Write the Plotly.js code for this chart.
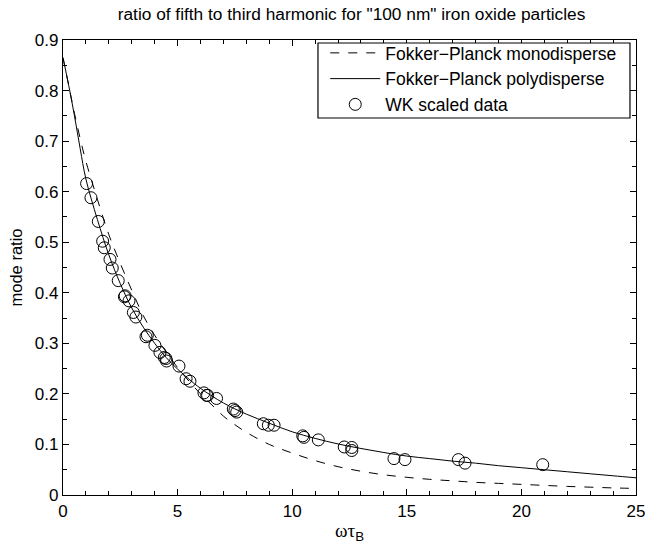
<!DOCTYPE html>
<html>
<head>
<meta charset="utf-8">
<script src="https://cdn.plot.ly/plotly-3.0.1.min.js"></script>
<style>html,body{margin:0;padding:0;background:#fff;}#chart{width:645px;height:550px;}</style>
</head>
<body>
<div id="chart"></div>
<script>
// Fokker-Planck curves
const curveX = [0,0.25,0.5,0.75,1,1.5,2,2.5,3,3.5,4,4.5,5,5.5,6,6.5,7,7.5,8,9,10,11,12,13,14,15,16,17,18,19,20,21,22,23,24,25];
const monoY  = [0.865,0.81,0.755,0.705,0.66,0.585,0.515,0.458,0.405,0.355,0.316,0.283,0.252,0.225,0.200,0.178,0.156,0.139,0.124,0.100,0.083,0.068,0.056,0.047,0.040,0.035,0.031,0.028,0.025,0.023,0.021,0.019,0.017,0.0155,0.014,0.013];
const polyX  = [0,0.25,0.5,0.75,1,1.5,2,2.5,3,3.5,4,4.5,5,5.5,6,7,8,9,10,11,12,13,14,15,16,17,18,19,20,21,22,23,24,25];
const polyY  = [0.865,0.81,0.75,0.685,0.625,0.545,0.475,0.418,0.370,0.332,0.300,0.272,0.249,0.229,0.211,0.182,0.160,0.142,0.125,0.112,0.101,0.092,0.084,0.077,0.072,0.067,0.063,0.058,0.054,0.050,0.046,0.042,0.038,0.034];
// WK scaled data
const dataX = [1.03,1.22,1.54,1.73,1.80,2.05,2.15,2.41,2.68,2.71,2.88,3.07,3.18,3.62,3.68,4.01,4.23,4.42,4.49,4.52,5.06,5.37,5.54,6.15,6.27,6.31,6.70,7.43,7.50,7.58,8.74,8.96,9.21,10.46,10.51,11.14,12.27,12.60,12.60,14.44,14.92,17.25,17.54,20.93];
const dataY = [0.616,0.588,0.541,0.502,0.489,0.466,0.449,0.424,0.392,0.394,0.384,0.361,0.352,0.313,0.316,0.296,0.282,0.272,0.270,0.265,0.255,0.230,0.225,0.202,0.197,0.197,0.191,0.170,0.167,0.164,0.141,0.138,0.138,0.117,0.114,0.109,0.095,0.094,0.088,0.072,0.070,0.070,0.063,0.060];

const names = ['Fokker\u2212Planck monodisperse','Fokker\u2212Planck polydisperse','WK scaled data'];

const traces = [
  {x: curveX, y: monoY, mode:'lines', name:names[0], line:{color:'#000', width:1, dash:'dash', shape:'spline'}},
  {x: polyX, y: polyY, mode:'lines', name:names[1], line:{color:'#000', width:1, shape:'spline'}},
  {x: dataX, y: dataY, mode:'markers', name:names[2], marker:{symbol:'circle-open', size:12, color:'#000', line:{width:1, color:'#000'}}}
];

const fam = '"Liberation Sans", Arial, Helvetica, sans-serif';
const f = (s) => ({family:fam, color:'#000', size:s});
const layout = {
  width:645, height:550,
  margin:{l:63, r:9, t:40, b:55},
  paper_bgcolor:'#fff', plot_bgcolor:'#fff',
  font: f(16),
  title:{text:'ratio of fifth to third harmonic for "100 nm" iron oxide particles', font:f(17.3), x:0.545, xanchor:'center', y:0.975, yanchor:'middle'},
  xaxis:{range:[0,25], dtick:5, tick0:0, ticks:'inside', ticklen:6, tickcolor:'#000', showline:true, linecolor:'#000', linewidth:1.2, mirror:'allticks', showgrid:false, zeroline:false,
    minor:{dtick:1, ticks:'inside', ticklen:4, tickcolor:'#000', showgrid:false},
    tickfont:f(17), ticklabeloverflow:'allow',
    title:{text:'<span style="font-family:\'Liberation Serif\', serif">\u03c9\u03c4</span><sub>B</sub>', font:f(19), standoff:4}},
  yaxis:{range:[0,0.9], dtick:0.1, tick0:0, ticks:'inside', ticklen:6, tickcolor:'#000', showline:true, linecolor:'#000', linewidth:1.2, mirror:'allticks', showgrid:false, zeroline:false,
    minor:{dtick:0.05, ticks:'inside', ticklen:4, tickcolor:'#000', showgrid:false},
    tickfont:f(17), tickformat:'.1~f', ticklabeloverflow:'allow',
    title:{text:'mode ratio', font:f(16.5), standoff:8}},
  shapes:[{type:'rect', xref:'paper', yref:'paper', x0:0.445, x1:0.9895, y0:0.8286, y1:0.9934, fillcolor:'#fff', line:{color:'#000', width:1.2}, layer:'above'}],
  showlegend:true,
  legend:{x:0.976, xanchor:'right', y:1.011, yanchor:'top', bgcolor:'rgba(0,0,0,0)', borderwidth:0, font:f(17.5), tracegroupgap:0, itemwidth:50}
};

Plotly.newPlot('chart', traces, layout, {staticPlot:true, displayModeBar:false});
</script>
</body>
</html>
